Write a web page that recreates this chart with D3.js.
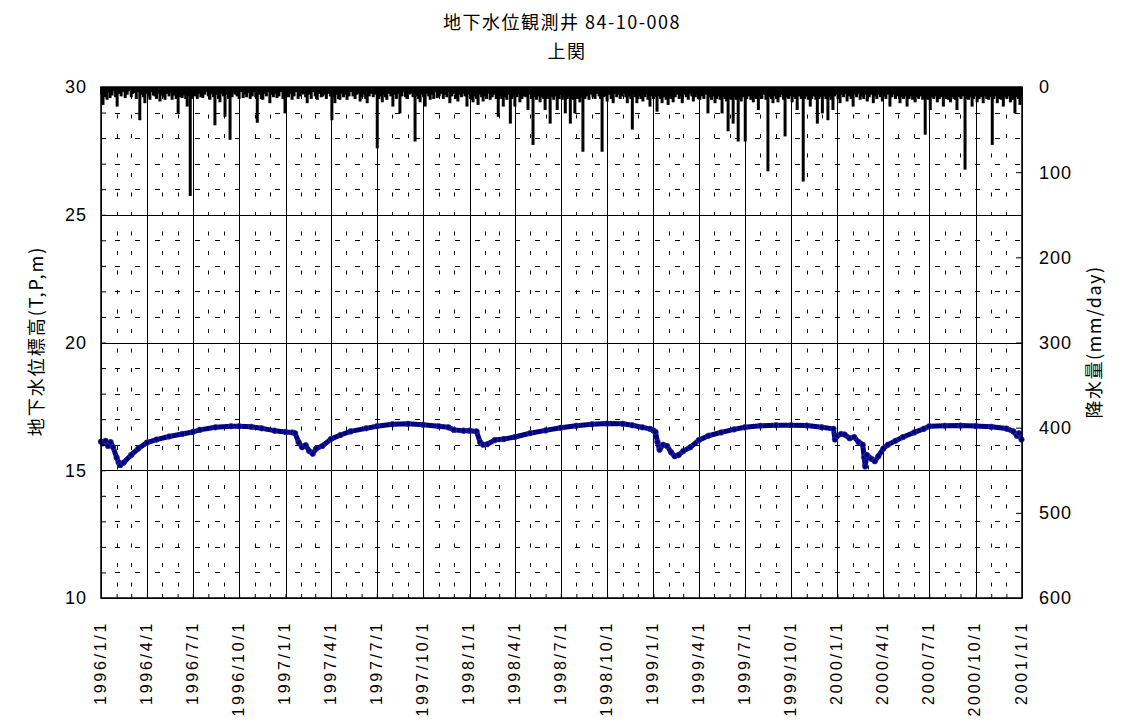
<!DOCTYPE html>
<html><head><meta charset="utf-8">
<script src="https://cdn.jsdelivr.net/npm/d3@7"></script>
<style>body{margin:0;background:#fff} text{font-family:"Liberation Sans",Arial,sans-serif;fill:#000}</style>
</head><body><svg id="c" width="1129" height="722"></svg>
<script>
const titleLines = ["地下水位観測井 84-10-008", "上関"];
const leftTitle = "地下水位標高(T,P,m)";
const rightTitle = "降水量(mm/day)";
const levelTicks = [10, 15, 20, 25, 30];
const rainTicks = [0, 100, 200, 300, 400, 500, 600];
const dateTicks = ["1996-01-01","1996-04-01","1996-07-01","1996-10-01","1997-01-01","1997-04-01","1997-07-01","1997-10-01","1998-01-01","1998-04-01","1998-07-01","1998-10-01","1999-01-01","1999-04-01","1999-07-01","1999-10-01","2000-01-01","2000-04-01","2000-07-01","2000-10-01","2001-01-01"];

const gwDates = ["1996-01-01","1996-01-05","1996-01-10","1996-01-15","1996-01-20","1996-01-25","1996-02-01","1996-02-05","1996-02-08","1996-02-15","1996-03-01","1996-03-15","1996-04-01","1996-04-20","1996-05-15","1996-06-10","1996-07-01","1996-07-15","1996-08-15","1996-09-15","1996-10-01","1996-10-25","1996-11-15","1996-12-10",
"1997-01-01","1997-01-15","1997-01-20","1997-01-27","1997-02-03","1997-02-10","1997-02-17","1997-02-24","1997-03-03","1997-03-15","1997-04-01","1997-04-20","1997-05-10","1997-06-10","1997-07-01","1997-08-01","1997-09-01","1997-10-01","1997-11-01","1997-11-20","1997-12-01","1997-12-20",
"1998-01-01","1998-01-15","1998-01-22","1998-01-28","1998-02-05","1998-02-20","1998-03-10","1998-04-01","1998-05-01","1998-06-01","1998-07-01","1998-08-01","1998-09-01","1998-10-01","1998-11-01","1998-11-20","1998-12-10","1998-12-25",
"1999-01-01","1999-01-05","1999-01-09","1999-01-13","1999-01-20","1999-01-28","1999-02-05","1999-02-12","1999-02-20","1999-03-01","1999-03-15","1999-04-01","1999-04-20","1999-05-15","1999-06-10","1999-07-01","1999-08-01","1999-09-01","1999-10-01","1999-11-01","1999-12-01","1999-12-24","1999-12-27",
"2000-01-01","2000-01-08","2000-01-15","2000-01-25","2000-02-03","2000-02-12","2000-02-20","2000-02-23","2000-02-25","2000-02-28","2000-03-08","2000-03-15","2000-03-22","2000-04-01","2000-04-10","2000-04-25","2000-05-10","2000-06-01","2000-06-20","2000-07-01","2000-08-01","2000-09-01","2000-10-01","2000-11-01","2000-12-01","2000-12-15","2000-12-22","2000-12-26","2000-12-31"];
const gwLevels = [16.12,16.05,16.15,15.95,16.1,15.9,15.5,15.3,15.2,15.3,15.6,15.85,16.08,16.2,16.32,16.42,16.5,16.58,16.68,16.72,16.72,16.7,16.64,16.55,
16.5,16.48,16.45,16.1,15.9,15.98,15.75,15.65,15.85,15.95,16.22,16.38,16.52,16.64,16.72,16.8,16.82,16.78,16.72,16.68,16.58,16.55,
16.55,16.52,16.1,16.0,16.02,16.18,16.22,16.3,16.45,16.56,16.66,16.74,16.8,16.83,16.82,16.76,16.68,16.62,
16.55,16.5,16.1,15.8,16.0,15.95,15.7,15.55,15.6,15.75,15.9,16.18,16.35,16.48,16.6,16.68,16.74,16.76,16.76,16.75,16.68,16.62,16.2,
16.35,16.42,16.4,16.25,16.3,16.1,16.0,15.5,15.15,15.6,15.45,15.35,15.55,15.85,16.0,16.15,16.3,16.48,16.62,16.72,16.74,16.75,16.73,16.7,16.63,16.52,16.35,16.45,16.2];

// [day index since 1996-01-01, mm/day]
const rainfall = [[1,9],[4,21],[7,7],[9,12],[12,15],[15,6],[18,13],[22,10],[26,5],[29,12],[32,23],[36,8],[40,11],[44,6],[48,13],[52,9],[56,5],[60,12],[63,8],[67,7],[70,14],[74,6],[77,39],[80,9],[84,12],[87,19],[90,8],[94,11],[97,15],[100,6],[104,10],[107,11],[110,14],[114,8],[117,17],[120,10],[124,12],[127,15],[131,8],[135,11],[138,7],[141,15],[145,10],[149,14],[153,31],[156,8],[158,12],[161,13],[164,10],[168,14],[171,23],[174,11],[177,128],[180,14],[184,9],[187,11],[191,14],[195,8],[198,12],[202,13],[206,9],[209,6],[213,11],[216,15],[220,8],[223,12],[226,45],[229,9],[233,14],[236,18],[240,8],[243,11],[246,35],[250,9],[253,14],[256,62],[260,12],[263,8],[267,9],[270,11],[274,14],[278,6],[282,13],[286,9],[289,12],[293,7],[296,14],[300,11],[304,6],[307,12],[310,42],[314,9],[318,14],[321,15],[325,8],[328,11],[332,6],[335,19],[339,9],[342,12],[346,8],[349,13],[353,11],[357,6],[361,14],[365,31],[369,9],[372,12],[376,8],[379,15],[383,11],[387,6],[391,14],[395,11],[399,9],[402,8],[406,12],[409,19],[413,9],[417,14],[421,6],[425,11],[429,15],[433,8],[437,12],[440,11],[444,9],[447,14],[451,8],[455,11],[458,39],[461,12],[464,19],[467,9],[471,14],[474,15],[478,8],[481,12],[485,9],[488,15],[492,11],[496,6],[500,11],[504,14],[507,9],[511,8],[514,17],[518,12],[521,9],[525,14],[528,19],[532,11],[536,8],[540,12],[544,9],[548,72],[551,14],[555,11],[558,18],[561,9],[564,12],[567,15],[571,8],[575,11],[579,23],[583,9],[586,14],[590,8],[593,31],[597,11],[600,6],[604,12],[607,14],[611,9],[615,8],[619,12],[623,64],[626,11],[630,14],[633,18],[637,9],[640,12],[643,23],[647,8],[650,11],[653,15],[657,9],[660,14],[664,6],[667,13],[671,11],[675,8],[679,14],[682,9],[686,12],[689,6],[692,19],[696,11],[700,8],[704,14],[708,17],[711,9],[715,12],[719,8],[722,11],[726,23],[729,9],[733,14],[735,15],[738,18],[741,11],[745,14],[748,21],[751,9],[755,12],[758,17],[762,11],[765,14],[769,8],[772,15],[776,12],[780,9],[784,14],[788,35],[791,11],[795,14],[798,23],[802,12],[805,15],[809,9],[812,43],[815,14],[818,11],[821,23],[825,12],[828,9],[831,18],[835,14],[839,11],[843,12],[847,27],[850,9],[854,14],[857,68],[861,12],[864,15],[867,11],[871,18],[874,12],[878,14],[881,27],[884,11],[888,14],[891,43],[895,12],[898,15],[902,11],[905,27],[909,14],[912,9],[915,15],[918,12],[921,31],[925,14],[928,11],[931,43],[934,14],[937,15],[940,31],[944,11],[947,14],[950,18],[953,12],[956,76],[960,14],[964,11],[968,15],[972,9],[976,12],[980,14],[984,8],[988,11],[991,14],[994,76],[997,12],[1001,11],[1004,17],[1008,9],[1012,14],[1016,19],[1020,8],[1023,12],[1027,9],[1030,14],[1034,11],[1037,8],[1041,12],[1044,19],[1047,11],[1051,14],[1054,50],[1057,9],[1060,12],[1063,19],[1067,11],[1071,14],[1075,17],[1079,12],[1082,9],[1085,15],[1089,23],[1092,11],[1096,14],[1099,12],[1103,29],[1106,11],[1110,14],[1113,19],[1117,12],[1121,15],[1125,21],[1128,11],[1132,14],[1135,18],[1139,12],[1143,9],[1147,14],[1150,11],[1153,19],[1157,9],[1161,12],[1165,15],[1168,8],[1172,11],[1175,17],[1179,12],[1182,9],[1185,14],[1188,15],[1192,11],[1196,14],[1200,9],[1204,31],[1207,12],[1211,15],[1214,11],[1218,19],[1221,14],[1225,11],[1228,15],[1232,31],[1235,12],[1238,14],[1241,17],[1244,52],[1247,14],[1250,15],[1254,43],[1257,12],[1260,15],[1264,64],[1267,14],[1270,17],[1274,12],[1278,64],[1281,14],[1285,11],[1289,15],[1294,18],[1297,12],[1300,14],[1304,27],[1308,11],[1311,14],[1315,9],[1319,15],[1323,99],[1326,12],[1330,14],[1333,19],[1337,11],[1340,14],[1343,18],[1347,12],[1350,9],[1354,15],[1357,58],[1360,12],[1364,14],[1367,11],[1371,18],[1374,12],[1378,14],[1381,27],[1385,11],[1389,14],[1393,111],[1396,14],[1400,11],[1403,15],[1407,23],[1410,14],[1414,11],[1418,15],[1421,43],[1424,14],[1427,12],[1431,31],[1434,11],[1438,14],[1442,39],[1445,12],[1448,15],[1452,27],[1455,11],[1459,9],[1462,14],[1466,19],[1469,9],[1473,12],[1476,8],[1480,17],[1484,11],[1488,14],[1492,23],[1495,9],[1499,12],[1502,8],[1506,15],[1510,11],[1513,14],[1517,9],[1520,17],[1524,12],[1528,9],[1532,19],[1536,11],[1539,14],[1543,9],[1546,12],[1550,17],[1554,11],[1557,14],[1561,9],[1565,23],[1569,12],[1572,9],[1576,14],[1580,11],[1585,19],[1588,12],[1592,14],[1595,11],[1599,23],[1603,14],[1606,11],[1610,15],[1615,18],[1618,12],[1622,14],[1626,11],[1630,15],[1635,56],[1638,14],[1641,15],[1645,27],[1648,12],[1652,14],[1655,11],[1659,18],[1663,14],[1667,12],[1671,23],[1674,11],[1678,14],[1681,15],[1685,18],[1689,12],[1692,14],[1695,15],[1698,27],[1702,12],[1706,14],[1710,11],[1714,97],[1717,14],[1721,15],[1724,12],[1728,23],[1731,14],[1735,11],[1738,18],[1742,14],[1746,12],[1750,19],[1753,11],[1757,14],[1761,15],[1764,12],[1768,68],[1771,14],[1775,11],[1778,19],[1782,14],[1786,15],[1790,23],[1793,12],[1797,14],[1800,11],[1804,18],[1807,14],[1810,15],[1813,31],[1817,12],[1820,14],[1823,21],[1826,11]];

const parse = d3.timeParse("%Y-%m-%d");
const fmt = d3.timeFormat("%Y/%-m/%-d");
const L = 101, R = 1022, T = 87, B = 598;
const start = parse("1996-01-01"), end = parse("2001-01-01");
const x = d3.scaleTime().domain([start, end]).range([L, R]);
const yL = d3.scaleLinear().domain([10, 30]).range([B, T]);
const yR = d3.scaleLinear().domain([0, 600]).range([T, B]);
const svg = d3.select("#c");

// minor dashed gridlines
const g = svg.append("g");
const minorLevels = d3.range(11, 30).filter(v => v % 5 !== 0);
g.selectAll("line.hm").data(minorLevels).enter().append("line")
  .attr("x1", L).attr("x2", R).attr("y1", d => Math.round(yL(d)) + 0.5).attr("y2", d => Math.round(yL(d)) + 0.5)
  .attr("stroke", "#000").attr("stroke-width", 1).attr("stroke-dasharray", "5,15").attr("stroke-dashoffset", 6);
const months = d3.timeMonth.range(start, end).filter(d => d.getMonth() % 3 !== 0);
g.selectAll("line.vm").data(months).enter().append("line")
  .attr("x1", d => Math.round(x(d)) + 0.5).attr("x2", d => Math.round(x(d)) + 0.5).attr("y1", T).attr("y2", B)
  .attr("stroke", "#000").attr("stroke-width", 1).attr("stroke-dasharray", "4,15.5").attr("stroke-dashoffset", -8);

// major gridlines
const qDates = dateTicks.map(parse);
g.selectAll("line.vq").data(qDates).enter().append("line")
  .attr("x1", d => Math.round(x(d)) + 0.5).attr("x2", d => Math.round(x(d)) + 0.5).attr("y1", T).attr("y2", B)
  .attr("stroke", "#000").attr("stroke-width", 1);
g.selectAll("line.hq").data(levelTicks).enter().append("line")
  .attr("x1", L).attr("x2", R).attr("y1", d => Math.round(yL(d)) + 0.5).attr("y2", d => Math.round(yL(d)) + 0.5)
  .attr("stroke", "#000").attr("stroke-width", 1);

// rainfall bars
svg.append("g").selectAll("rect").data(rainfall).enter().append("rect")
  .attr("x", d => x(d3.timeDay.offset(start, d[0])) - 1.5)
  .attr("width", 3)
  .attr("y", yR(0))
  .attr("height", d => yR(d[1]) - yR(0))
  .attr("fill", "#000");

// groundwater line
const gw = gwDates.map((d, i) => ({date: parse(d), v: gwLevels[i]}));
svg.append("path").datum(gw)
  .attr("fill", "none").attr("stroke", "#000080").attr("stroke-width", 5)
  .attr("stroke-linejoin", "round").attr("stroke-linecap", "round")
  .attr("d", d3.line().x(d => x(d.date)).y(d => yL(d.v)));
svg.append("g").selectAll("circle").data(gw).enter().append("circle")
  .attr("cx", d => x(d.date)).attr("cy", d => yL(d.v)).attr("r", 2.8)
  .attr("fill", "#000080").attr("stroke", "#3a3aa8").attr("stroke-width", 0.6);

// axes
const axL = svg.append("g").attr("transform", `translate(${L},0)`)
  .call(d3.axisRight(yL).tickValues(d3.range(10, 31)).tickSize(5).tickFormat(""));
const axR = svg.append("g").attr("transform", `translate(${R},0)`)
  .call(d3.axisLeft(yR).tickValues(rainTicks).tickSize(6).tickFormat(""));
const axB = svg.append("g").attr("transform", `translate(0,${B})`)
  .call(d3.axisTop(x).tickValues(d3.timeMonth.range(start, d3.timeDay.offset(end, 1))).tickSize(4).tickFormat(""));
[axL, axR, axB].forEach(a => { a.select(".domain").remove(); a.selectAll("line").attr("stroke", "#000"); });

// frame
svg.append("rect").attr("x", L).attr("y", T).attr("width", R - L).attr("height", B - T)
  .attr("fill", "none").attr("stroke", "#000").attr("stroke-width", 1.5);

// tick labels
svg.append("g").selectAll("text").data(levelTicks).enter().append("text")
  .attr("x", 87).attr("y", d => yL(d)).attr("dy", "0.36em").attr("text-anchor", "end")
  .attr("font-size", 18).style("letter-spacing", "1px").text(d => d);
svg.append("g").selectAll("text").data(rainTicks).enter().append("text")
  .attr("x", 1039).attr("y", d => yR(d)).attr("dy", "0.36em").attr("text-anchor", "start")
  .attr("font-size", 18).style("letter-spacing", "1px").text(d => d);
svg.append("g").selectAll("text").data(qDates).enter().append("text")
  .attr("transform", d => `translate(${x(d) - 1},621) rotate(-90)`)
  .attr("dy", "0.36em").attr("text-anchor", "end")
  .attr("font-size", 16).style("letter-spacing", "2.7px").text(d => fmt(d));

// titles
const cjk = '"Noto Sans CJK JP","Noto Sans",sans-serif';
svg.append("text").attr("x", 562).attr("y", 29).attr("text-anchor", "middle")
  .style("font-family", cjk).attr("font-size", 18).style("letter-spacing", "1.5px").text(titleLines[0]);
svg.append("text").attr("x", 567).attr("y", 58).attr("text-anchor", "middle")
  .style("font-family", cjk).attr("font-size", 18).style("letter-spacing", "1.5px").text(titleLines[1]);
svg.append("text").attr("transform", "translate(37,341) rotate(-90)").attr("dy", "0.36em").attr("text-anchor", "middle")
  .style("font-family", cjk).attr("font-size", 18).style("letter-spacing", "2px").text(leftTitle);
svg.append("text").attr("transform", "translate(1095,342) rotate(-90)").attr("dy", "0.36em").attr("text-anchor", "middle")
  .style("font-family", cjk).attr("font-size", 18).style("letter-spacing", "1.5px").text(rightTitle);
</script></body></html>
